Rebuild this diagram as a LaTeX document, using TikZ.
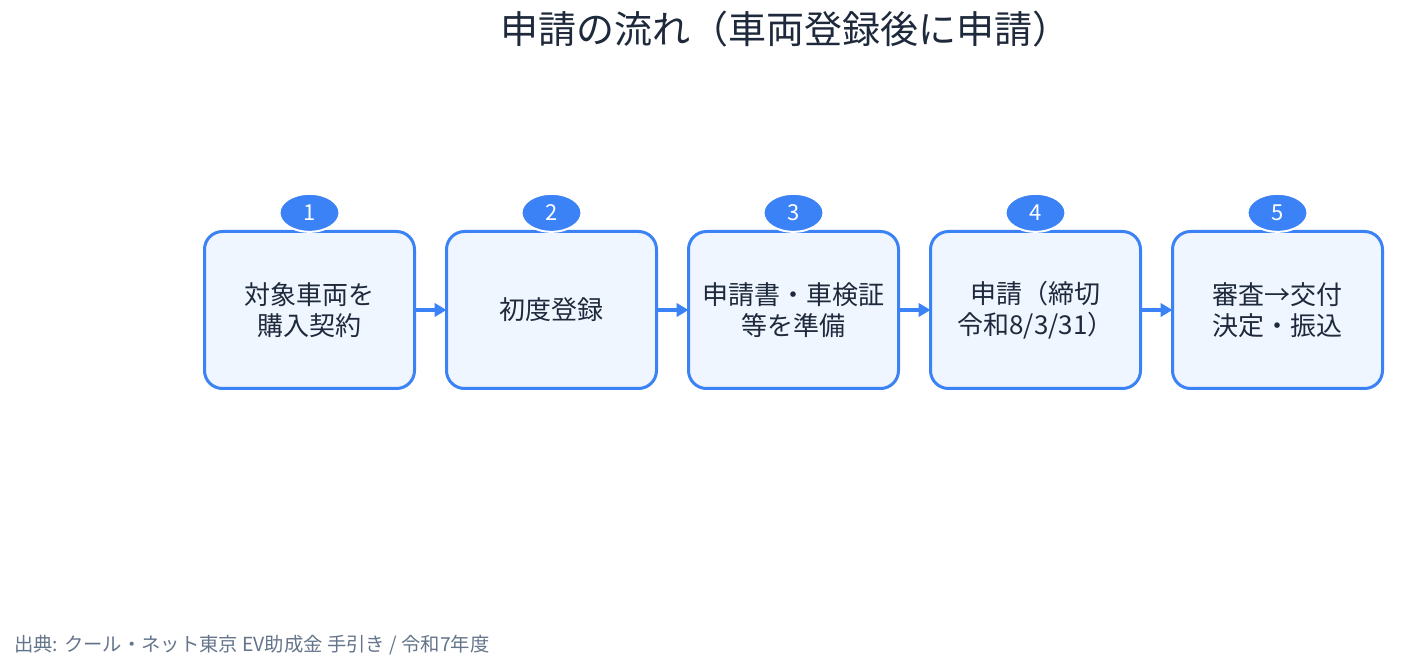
\documentclass[tikz,border=0pt]{standalone}
\usepackage{fontspec}
\setmainfont{Noto Sans CJK JP}
\usepackage{tikz}
\usetikzlibrary{arrows.meta, positioning, shapes.geometric}
\definecolor{flowblue}{HTML}{3B82F6}
\definecolor{flowfill}{HTML}{EFF6FF}
\definecolor{flowtext}{HTML}{1E293B}
\definecolor{flownote}{HTML}{64748B}
\tikzset{
  stepbox/.style={draw=flowblue, fill=flowfill, line width=2.25pt, rounded corners=13.5pt,
    minimum width=157.5pt, minimum height=117.75pt, outer sep=0pt, align=center,
    text=flowtext, font=\fontsize{19.5}{23}\selectfont},
  badge/.style={ellipse, draw=white, fill=flowblue, line width=1.5pt, minimum width=45pt,
    minimum height=28.5pt, inner sep=0pt, text=white, font=\fontsize{16.5}{18}\selectfont},
  flowarrow/.style={draw=flowblue, line width=2.5pt, -{Triangle[length=9pt,width=10pt]}}
}

\begin{document}
\begin{tikzpicture}[x=0.75pt, y=-0.75pt]
\useasboundingbox (0,0) rectangle (1411,670);
\node[text=flowtext, font=\fontsize{28.5}{32}\selectfont] (title) at (785,29) {申請の流れ（車両登録後に申請）};

\node[stepbox] (s1) at (309.5,310) {対象車両を\\購入契約};
\node[stepbox, right=24pt of s1] (s2) {初度登録};
\node[stepbox, right=24pt of s2] (s3) {申請書・車検証\\等を準備};
\node[stepbox, right=24pt of s3] (s4) {申請（締切\\令和8/3/31）};
\node[stepbox, right=24pt of s4] (s5) {審査→交付\\決定・振込};

\node[badge] (b1) at ([yshift=14pt]s1.north) {1};
\node[badge] (b2) at ([yshift=14pt]s2.north) {2};
\node[badge] (b3) at ([yshift=14pt]s3.north) {3};
\node[badge] (b4) at ([yshift=14pt]s4.north) {4};
\node[badge] (b5) at ([yshift=14pt]s5.north) {5};

\draw[flowarrow] (s1) -- (s2);
\draw[flowarrow] (s2) -- (s3);
\draw[flowarrow] (s3) -- (s4);
\draw[flowarrow] (s4) -- (s5);

\node[anchor=west, inner sep=0pt, text=flownote, font=\fontsize{14.5}{17}\selectfont] (source) at (14,645) {出典: クール・ネット東京 EV助成金 手引き / 令和7年度};
\end{tikzpicture}
\end{document}
